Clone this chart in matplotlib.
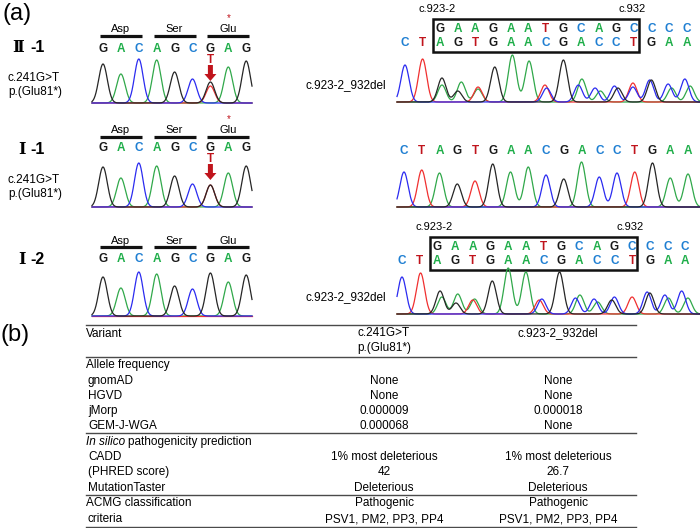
import numpy as np
import matplotlib.pyplot as plt
from matplotlib.patches import FancyArrow, Rectangle

plt.rcParams['font.family'] = ['Liberation Sans', 'Noto Sans CJK JP', 'DejaVu Sans']

letter_col = {'G': '#1a1a1a', 'A': '#1fae4a', 'C': '#1f7fd2', 'T': '#c0141c'}
trace_col = {'G': '#262626', 'A': '#30a84a', 'C': '#2b2bf0', 'T': '#f03030'}
red = '#c0141c'

# ---- (a) exon region around c.241 ----
codons = ['Asp', 'Ser', 'Glu']
ref_seq = 'GACAGCGAG'
h_II1 = [39, 29, 44, 43, 31, 24, 21, 36, 42]
h_I1 = [40, 29, 44, 41, 31, 23, 22, 34, 41]
h_I2 = [39, 28, 44, 42, 30, 27, 43, 34, 41]
mutT_II1 = 17
mutT_I1 = 22

# ---- (a) deletion region c.923-2_932 ----
wt_seq = 'GAAGAATGCAGCCCC'      # starts at base index 2
del_seq = 'CTAGTGAACGACCTGAA'
h_I1_right = [35, 37, 34, 23, 26, 43, 35, 40, 32, 28, 45, 30, 34, 35, 44, 29, 33]
# heterozygous traces: (base index, base, height)
het_II1 = [(0, 'C', 37), (1, 'T', 43), (2.1, 'G', 24), (2.1, 'A', 17), (3.0, 'G', 11),
           (3.2, 'A', 20), (4.15, 'T', 15), (4.15, 'A', 13), (5.1, 'G', 35), (6.1, 'A', 47),
           (7.05, 'A', 41), (7.95, 'T', 17), (8.05, 'C', 14), (9.0, 'G', 42), (9.85, 'C', 17),
           (10.05, 'A', 23), (10.8, 'C', 14), (11.1, 'A', 11), (12.1, 'G', 14), (11.9, 'C', 16),
           (12.95, 'T', 19), (12.95, 'C', 15), (14.0, 'G', 22), (13.9, 'C', 22), (14.95, 'C', 18),
           (15.15, 'A', 14), (15.9, 'C', 23), (16.2, 'A', 16)]
het_I2 = [(0, 'C', 37), (1.05, 'T', 41), (2.15, 'G', 23), (2.25, 'A', 17), (3.05, 'G', 11),
          (3.15, 'A', 20), (4.0, 'T', 14), (4.1, 'A', 15), (5.1, 'G', 33), (6.0, 'A', 46),
          (7.0, 'A', 42), (7.75, 'T', 14), (7.9, 'C', 15), (8.9, 'G', 42), (9.8, 'C', 16),
          (10.05, 'A', 19), (10.85, 'C', 15), (11.05, 'A', 12), (11.85, 'G', 14), (12.0, 'C', 17),
          (13.0, 'T', 17), (14.0, 'G', 21), (13.85, 'C', 22), (14.85, 'C', 19), (15.05, 'A', 16),
          (15.8, 'C', 23), (16.15, 'A', 16)]

# ---- (b) table ----
header_c1 = ['c.241G>T', 'p.(Glu81*)']
header_c2 = ['c.923-2_932del']
row_labels = ['Allele frequency', 'gnomAD', 'HGVD', 'jMorp', 'GEM-J-WGA',
              'In silico pathogenicity prediction', 'CADD', '(PHRED score)',
              'MutationTaster', 'ACMG classification', 'criteria']
col1 = ['', 'None', 'None', '0.000009', '0.000068', '', '1% most deleterious', '42',
        'Deleterious', 'Pathogenic', 'PSV1, PM2, PP3, PP4']
col2 = ['', 'None', 'None', '0.000018', 'None', '', '1% most deleterious', '26.7',
        'Deleterious', 'Pathogenic', 'PSV1, PM2, PP3, PP4']
section_rows = [0, 5, 9]

fig = plt.figure(figsize=(7, 5.28), dpi=100)
ax = fig.add_axes([0, 0, 1, 1])
ax.set_xlim(0, 700)
ax.set_ylim(528, 0)
ax.axis('off')


def trace(x0, step, base_y, peaks, xmin, xmax, sigma):
    xs = np.linspace(xmin, xmax, 900)
    for b in 'ATCG':
        s = np.zeros_like(xs)
        for p, bb, h in peaks:
            if bb == b:
                s += h * np.exp(-0.5 * ((xs - (x0 + p * step)) / sigma) ** 2)
        ax.plot(xs, base_y - s, color=trace_col[b], lw=0.9)


def bases(x0, step, y, seq, start=0):
    for i, b in enumerate(seq):
        ax.text(x0 + (i + start) * step, y, b, color=letter_col[b], fontsize=8.5,
                fontweight='bold', ha='center', va='center')


ax.text(3, 14, '(a)', fontsize=17, va='center', ha='left')
ax.text(1, 335, '(b)', fontsize=17, va='center', ha='left')

# left panels
x0, step = 103, 17.9
left = [('Ⅱ', 12, 48, 29, 36, 49, 103, h_II1, mutT_II1, 78),
        ('Ⅰ', 18, 150, 130, 137, 148, 207, h_I1, mutT_I1, 180),
        ('Ⅰ', 18, 260, 241, 247, 259, 316, h_I2, None, None)]
nums = ['-1', '-1', '-2']
for (roman, nx, ny, ly, by, sy, base_y, hs, mut, my), num in zip(left, nums):
    ax.text(nx, ny, roman, fontsize=11.5, fontweight='bold', va='center', ha='left',
            family=['DejaVu Serif', 'Noto Sans CJK JP'])
    ax.text(30, ny, num, fontsize=11.5, fontweight='bold', va='center', ha='left')
    for k, c in enumerate(codons):
        xa, xb = x0 + 3 * k * step - 3, x0 + (3 * k + 2) * step + 3
        ax.plot([xa, xb], [by, by], color='#111111', lw=2.3, solid_capstyle='butt')
        ax.text((xa + xb) / 2, ly, c, fontsize=8, ha='center', va='center')
    bases(x0, step, sy, ref_seq)
    pk = [(i, b, h) for i, (b, h) in enumerate(zip(ref_seq, hs))]
    if mut is not None:
        pk.append((6, 'T', mut))
        ax.text(x0 + 7 * step, ly - 11, '*', color=red, fontsize=7, ha='center', va='center')
        ax.text(x0 + 6 * step, sy + 11, 'T', color=red, fontsize=8.5, fontweight='bold',
                ha='center', va='center')
        ax.add_patch(FancyArrow(x0 + 6 * step, sy + 16, 0, 16, width=5, head_width=12,
                                head_length=7, length_includes_head=True, color=red, lw=0))
        ax.text(8, my, 'c.241G>T', fontsize=8.5, va='center', ha='left')
        ax.text(8, my + 14, 'p.(Glu81*)', fontsize=8.5, va='center', ha='left')
    trace(x0, step, base_y, pk, 92, 252, 4.3)

# right panels
for x0r, stepr, top, base_y, het in [(405, 17.6, 9, 102, het_II1), (402, 17.7, 227, 314, het_I2)]:
    ax.text(x0r + 2 * stepr - 3, top, 'c.923-2', fontsize=8, ha='center', va='center')
    ax.text(x0r + 13 * stepr - 2, top, 'c.932', fontsize=8, ha='center', va='center')
    ax.add_patch(Rectangle((x0r + 2 * stepr - 7, top + 10), 11.7 * stepr, 33,
                           fill=False, ec='#111111', lw=1.8))
    bases(x0r, stepr, top + 20, wt_seq, start=2)
    bases(x0r, stepr, top + 34, del_seq)
    ax.text(305, base_y - 17, 'c.923-2_932del', fontsize=8.5, ha='left', va='center')
    trace(x0r, stepr, base_y, het, 397, 700, 4.1)

x0m, stepm = 404, 17.75
bases(x0m, stepm, 151, del_seq)
trace(x0m, stepm, 207, [(i, b, h) for i, (b, h) in enumerate(zip(del_seq, h_I1_right))],
      397, 700, 4.1)

# table
tx0, tx1, c1x, c2x = 86, 636, 384, 558
fs = 8.5
for yl in [325, 357, 433, 495, 527]:
    ax.plot([tx0, tx1], [yl, yl], color='#4a4a4a', lw=1.0)
ax.text(tx0, 334, 'Variant', fontsize=fs, va='center')
ax.text(c1x, 333, header_c1[0], fontsize=fs, ha='center', va='center')
ax.text(c1x, 348, header_c1[1], fontsize=fs, ha='center', va='center')
ax.text(c2x, 333, header_c2[0], fontsize=fs, ha='center', va='center')
row_y = [365, 381, 396, 411, 426, 442, 457, 472, 488, 503, 519]
r = fig.canvas.get_renderer()
for i, (lab, a, b) in enumerate(zip(row_labels, col1, col2)):
    y = row_y[i]
    if lab.startswith('In silico'):
        t = ax.text(tx0, y, 'In silico', fontsize=fs, style='italic', va='center')
        bb = t.get_window_extent(r)
        x_end = bb.x1 * 700 / fig.bbox.width
        ax.text(x_end + 3, y, lab[len('In silico') + 1:], fontsize=fs, va='center')
    else:
        ax.text(tx0 + (0 if i in section_rows else 2), y, lab, fontsize=fs, va='center')
    ax.text(c1x, y, a, fontsize=fs, ha='center', va='center')
    ax.text(c2x, y, b, fontsize=fs, ha='center', va='center')

fig.savefig('out.png', dpi=100)
